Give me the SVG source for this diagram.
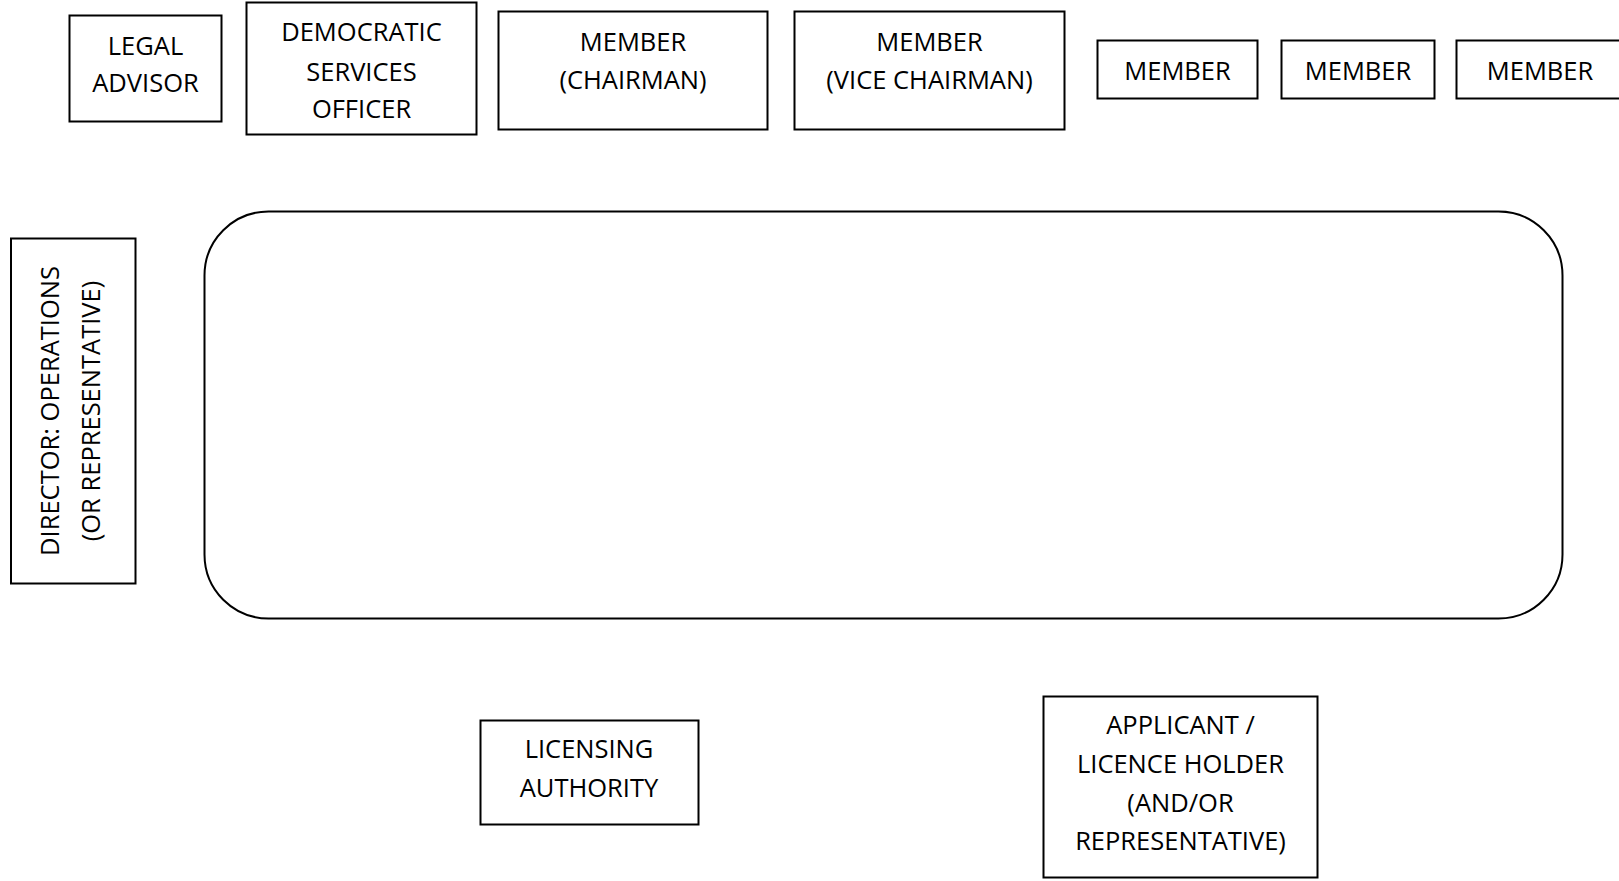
<svg xmlns="http://www.w3.org/2000/svg" width="1619" height="881" viewBox="0 0 1619 881">
<style>
.box{fill:#fff;stroke:#000;stroke-width:2}
.t{font-family:"Open Sans","Noto Sans","Liberation Sans",sans-serif;font-size:25.5px;fill:#000;text-anchor:middle}
</style>
<rect width="1619" height="881" fill="#fff"/>
<g id="table"><rect class="box" x="204.5" y="211.5" width="1358" height="407" rx="64" ry="64"/></g>
<g id="legal-advisor"><rect class="box" x="69.5" y="15.5" width="152" height="106"/><text class="t" x="145.5" y="55">LEGAL</text><text class="t" x="145.5" y="92">ADVISOR</text></g>
<g id="democratic-services"><rect class="box" x="246.5" y="2.5" width="230" height="132"/><text class="t" x="361.5" y="41">DEMOCRATIC</text><text class="t" x="361.5" y="80.5">SERVICES</text><text class="t" x="361.5" y="118">OFFICER</text></g>
<g id="member-chairman"><rect class="box" x="498.5" y="11.5" width="269" height="118"/><text class="t" x="633" y="51">MEMBER</text><text class="t" x="633" y="88.5">(CHAIRMAN)</text></g>
<g id="member-vice-chairman"><rect class="box" x="794.5" y="11.5" width="270" height="118"/><text class="t" x="929.5" y="51">MEMBER</text><text class="t" x="929.5" y="88.5">(VICE CHAIRMAN)</text></g>
<g id="member-1"><rect class="box" x="1097.5" y="40.5" width="160" height="58"/><text class="t" x="1177.5" y="80">MEMBER</text></g>
<g id="member-2"><rect class="box" x="1281.5" y="40.5" width="153" height="58"/><text class="t" x="1358" y="80">MEMBER</text></g>
<g id="member-3"><rect class="box" x="1456.5" y="40.5" width="170" height="58"/><text class="t" x="1540" y="80">MEMBER</text></g>
<g id="director"><rect class="box" x="11" y="238.5" width="124.5" height="345"/><text class="t" transform="translate(59,411) rotate(-90)">DIRECTOR: OPERATIONS</text><text class="t" transform="translate(100,411) rotate(-90)">(OR REPRESENTATIVE)</text></g>
<g id="licensing-authority"><rect class="box" x="480.5" y="720.5" width="218" height="104"/><text class="t" x="589" y="758">LICENSING</text><text class="t" x="589" y="797">AUTHORITY</text></g>
<g id="applicant"><rect class="box" x="1043.5" y="696.5" width="274" height="181"/><text class="t" x="1180.5" y="734">APPLICANT /</text><text class="t" x="1180.5" y="773">LICENCE HOLDER</text><text class="t" x="1180.5" y="812">(AND/OR</text><text class="t" x="1180.5" y="850">REPRESENTATIVE)</text></g>
<g id="connectors"></g>
</svg>
